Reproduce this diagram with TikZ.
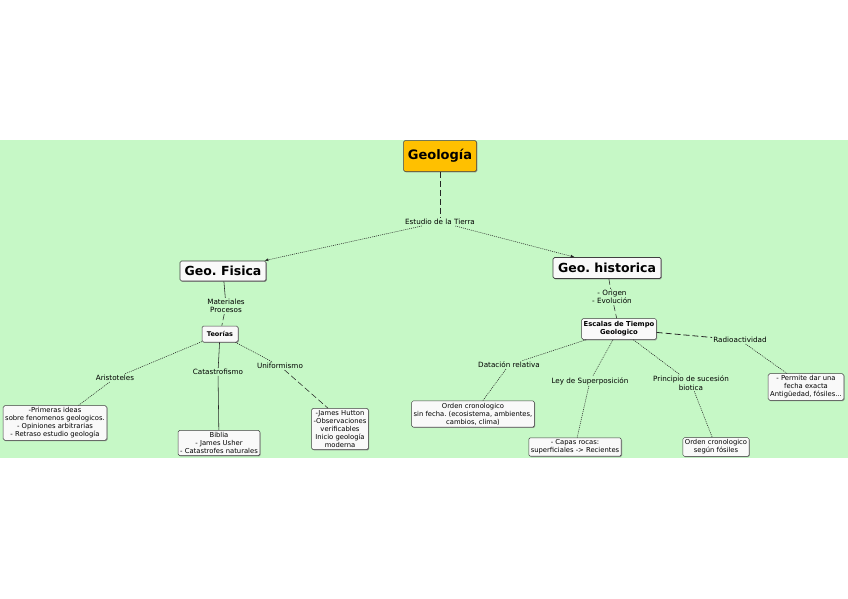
\documentclass[tikz,border=0pt]{standalone}
\usepackage{fontspec}
\setmainfont{DejaVu Sans}
\frenchspacing
\usetikzlibrary{positioning}
\usetikzlibrary{arrows.meta}
\usetikzlibrary{shadows}
\definecolor{map_green}{HTML}{C6F8C6}
\definecolor{map_orange}{HTML}{FFC000}
\tikzset{my_map/.style={x=1pt,y=-1pt,font=\fontsize{6.8}{8}\selectfont}}
\tikzset{my_box/.style={draw=black!75, fill=gray!5, rounded corners=1.5pt, line width=0.5pt, align=center, inner sep=2pt, drop shadow={shadow xshift=0.8pt, shadow yshift=-0.8pt, opacity=0.8}}}
\tikzset{my_main/.style={my_box, fill=map_orange, font=\fontsize{13}{15}\selectfont\bfseries, minimum width=73pt, minimum height=31pt}}
\tikzset{my_branch/.style={my_box, line width=0.7pt, font=\fontsize{12.5}{14}\selectfont\bfseries}}
\tikzset{my_label/.style={align=center, inner sep=1pt, font=\fontsize{7.2}{8.4}\selectfont}}
\tikzset{my_link/.style={black!85, line width=0.55pt}}
\tikzset{my_dots/.style={dash pattern=on 1pt off 1pt}}
\tikzset{my_dash/.style={dash pattern=on 6pt off 3pt}}

\begin{document}
\begin{tikzpicture}[my_map]
    \useasboundingbox (0,0) rectangle (848,599);
    \fill[map_green] (0,140) rectangle (848,458);

    % centre
    \node[my_main] (geo) at (440,156) {Geología};
    \node[my_label] (estudio) at (440,222) {Estudio de la Tierra};
    \node[my_branch, minimum width=86pt, minimum height=20pt] (fisica) at (223,271) {Geo. Fisica};
    \node[my_branch, minimum width=108pt, minimum height=21pt] (historica) at (607,268) {Geo. historica};

    % geologia fisica
    \node[my_label] (materiales) at (226,306) {Materiales\\Procesos};
    \node[my_box, font=\fontsize{6.5}{8}\selectfont\bfseries, minimum width=36pt, minimum height=16pt] (teorias) at (220,334) {Teorías};
    \node[my_label] (aristoteles) at (115,378) {Aristoteles};
    \node[my_label] (catastrofismo) at (218,372) {Catastrofismo};
    \node[my_label] (uniformismo) at (280,366) {Uniformismo};
    \node[my_box] (ideas) at (55,423) {-Primeras ideas\\sobre fenomenos geologicos.\\- Opiniones arbitrarias\\- Retraso estudio geología};
    \node[my_box] (biblia) at (219,443) {Biblia\\- James Usher\\- Catastrofes naturales};
    \node[my_box] (hutton) at (340,429) {-James Hutton\\-Observaciones\\verificables\\Inicio geología\\moderna};

    % geologia historica
    \node[my_label] (origen) at (612,297) {- Origen\\- Evolución};
    \node[my_box, font=\fontsize{6.8}{8}\selectfont\bfseries, minimum width=74pt, minimum height=21pt] (escalas) at (619,329) {Escalas de Tiempo\\Geologico};
    \node[my_label] (datacion) at (509,365) {Datación relativa};
    \node[my_label] (ley) at (590,381) {Ley de Superposición};
    \node[my_label] (principio) at (691,383) {Principio de sucesión\\biotica};
    \node[my_label] (radio) at (740,340) {Radioactividad};
    \node[my_box] (orden) at (473,414) {Orden cronologico\\sin fecha. (ecosistema, ambientes,\\cambios, clima)};
    \node[my_box] (capas) at (575,447) {- Capas rocas:\\superficiales -> Recientes};
    \node[my_box] (fosiles) at (716,447) {Orden cronologico\\según fósiles};
    \node[my_box] (permite) at (806,387) {- Permite dar una\\fecha exacta\\Antigüedad, fósiles...};

    \path[my_link]
        (geo) edge [my_dash] (estudio)
        (estudio) edge [my_dots, -{Latex[length=4pt,width=3pt]}] ([xshift=-2pt]fisica.north east)
        (estudio) edge [my_dots, -{Latex[length=4pt,width=3pt]}] ([xshift=22pt]historica.north west)
        (fisica) edge (materiales)
        (materiales) edge [my_dash] (teorias)
        (teorias) edge [my_dots] (aristoteles)
        (aristoteles) edge [my_dots] (ideas)
        (teorias) edge (catastrofismo)
        (catastrofismo) edge (biblia)
        (teorias) edge [my_dots] (uniformismo)
        (uniformismo) edge [my_dash] ([xshift=-12pt]hutton.north)
        (historica) edge [my_dash] (origen)
        (origen) edge [my_dash] (escalas)
        (escalas) edge [my_dots] (datacion)
        (datacion) edge [my_dots] (orden)
        (escalas) edge [my_dots] (ley)
        (ley) edge [my_dots] (capas)
        (escalas) edge [my_dots] (principio)
        (principio) edge [my_dots] (fosiles)
        (escalas) edge [my_dash, line width=0.8pt] (radio)
        (radio) edge [my_dots] (permite)
    ;
\end{tikzpicture}
\end{document}
